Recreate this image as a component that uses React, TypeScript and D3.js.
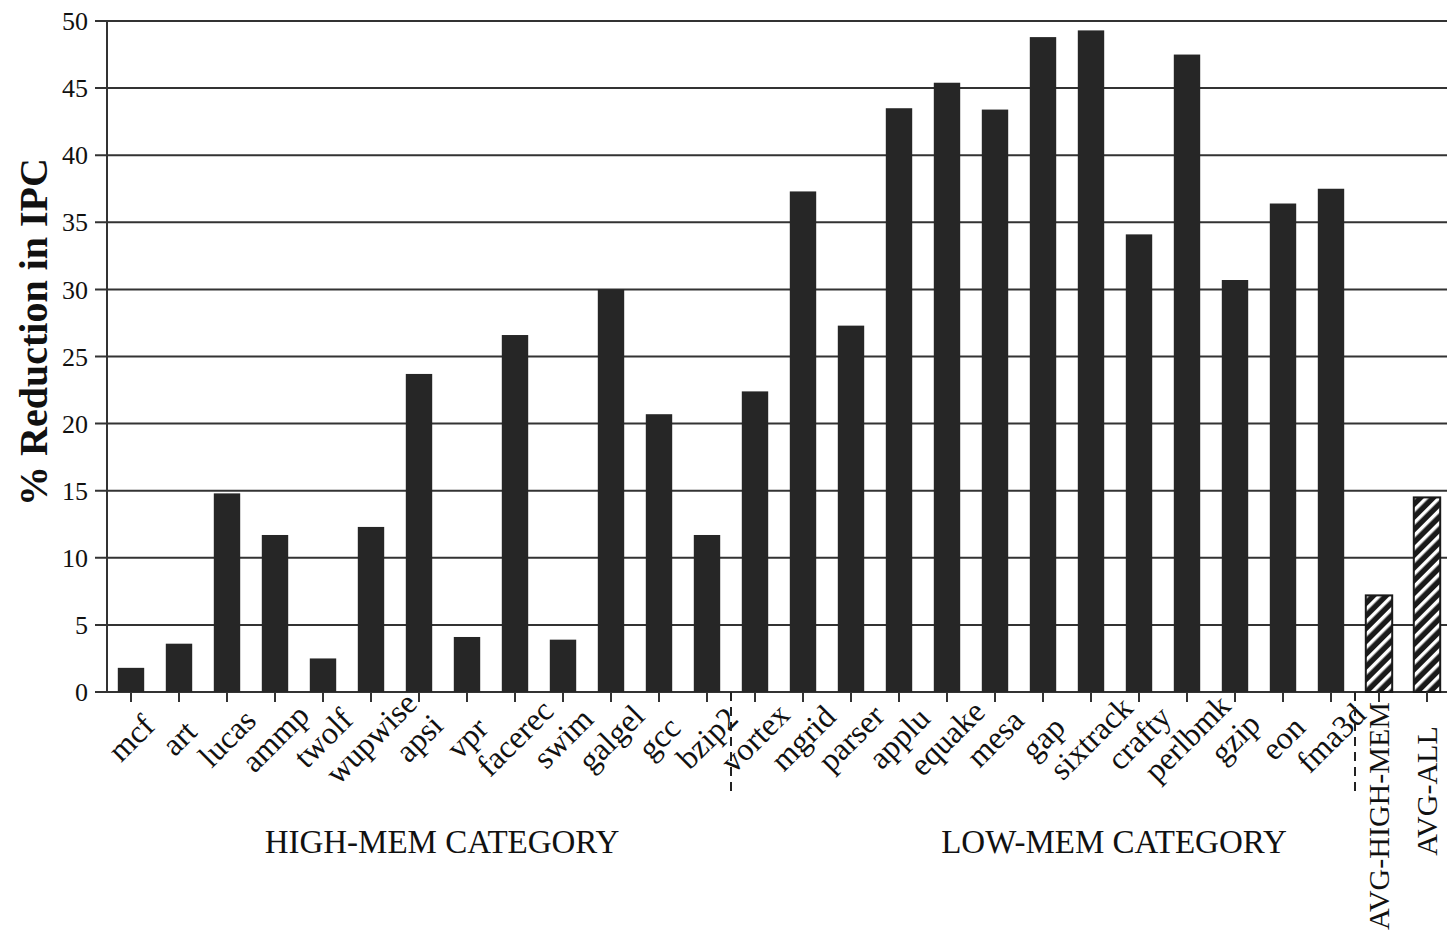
import React from "react";
import * as d3 from "d3";

const highMem = ["mcf", "art", "lucas", "ammp", "twolf", "wupwise", "apsi", "vpr", "facerec", "swim", "galgel", "gcc", "bzip2"];
const highVals = [1.8, 3.6, 14.8, 11.7, 2.5, 12.3, 23.7, 4.1, 26.6, 3.9, 30.0, 20.7, 11.7];
const lowMem = ["vortex", "mgrid", "parser", "applu", "equake", "mesa", "gap", "sixtrack", "crafty", "perlbmk", "gzip", "eon", "fma3d"];
const lowVals = [22.4, 37.3, 27.3, 43.5, 45.4, 43.4, 48.8, 49.3, 34.1, 47.5, 30.7, 36.4, 37.5];
const avgNames = ["AVG-HIGH-MEM", "AVG-ALL"];
const avgVals = [7.2, 14.5];
const yTicks = [0, 5, 10, 15, 20, 25, 30, 35, 40, 45, 50];

const W = 1447, H = 934;
const left = 107, top = 21, bottom = 692;

export default function App() {
  const names = [...highMem, ...lowMem, ...avgNames];
  const vals = [...highVals, ...lowVals, ...avgVals];
  const x = d3.scaleBand<string>().domain(names).range([left, left + names.length * 48]).paddingInner(0.45).paddingOuter(0.225);
  const y = d3.scaleLinear().domain([0, 50]).range([bottom, top]);
  const center = (n: string) => (x(n) as number) + x.bandwidth() / 2;
  const step = x.step();
  const sep1 = left + highMem.length * step;
  const sep2 = left + (highMem.length + lowMem.length) * step;
  const font = "'Liberation Serif', 'Times New Roman', serif";
  return (
    <svg width={W} height={H} style={{ position: "absolute", left: 0, top: 0, background: "#fff" }} fontFamily={font}>
      <defs>
        <pattern id="hatch" patternUnits="userSpaceOnUse" width="9" height="9" patternTransform="rotate(45)">
          <rect width="9" height="9" fill="#1a1a1a" />
          <rect x="0" y="0" width="3.5" height="9" fill="#fff" />
        </pattern>
      </defs>
      {yTicks.map((t) => (
        <g key={t}>
          <line x1={95} x2={W} y1={y(t)} y2={y(t)} stroke="#333" strokeWidth={2} />
          <text x={88} y={y(t)} dy="0.35em" textAnchor="end" fontSize={26} fill="#111">{t}</text>
        </g>
      ))}
      <line x1={left} x2={left} y1={top} y2={bottom} stroke="#333" strokeWidth={2} />
      {names.map((n, i) => {
        const isAvg = i >= highMem.length + lowMem.length;
        return (
          <g key={n}>
            <rect x={x(n)} y={y(vals[i])} width={x.bandwidth()} height={bottom - y(vals[i])}
              fill={isAvg ? "url(#hatch)" : "#262626"} stroke={isAvg ? "#1a1a1a" : "none"} strokeWidth={isAvg ? 2 : 0} />
            <line x1={center(n)} x2={center(n)} y1={bottom} y2={bottom + 10} stroke="#333" strokeWidth={2} />
            {isAvg ? (
              <text transform={`translate(${center(n) + 10},${i === names.length - 1 ? 791 : 816}) rotate(-90)`} textAnchor="middle" fontSize={30} fill="#111">{n}</text>
            ) : (
              <text transform={`translate(${center(n) + 2},${740}) rotate(-45)`} textAnchor="middle" dy="0.25em" fontSize={32} fill="#111">{n}</text>
            )}
          </g>
        );
      })}
      <line x1={sep1} x2={sep1} y1={bottom} y2={796} stroke="#222" strokeWidth={2} strokeDasharray="9,6" />
      <line x1={sep2} x2={sep2} y1={bottom} y2={796} stroke="#222" strokeWidth={2} strokeDasharray="9,6" />
      <text x={442} y={853} textAnchor="middle" fontSize={33} fill="#111">HIGH-MEM CATEGORY</text>
      <text x={1114} y={853} textAnchor="middle" fontSize={33} fill="#111">LOW-MEM CATEGORY</text>
      <text transform={`translate(47,${332}) rotate(-90)`} textAnchor="middle" fontSize={40} fontWeight="bold" fill="#111">% Reduction in IPC</text>
    </svg>
  );
}
